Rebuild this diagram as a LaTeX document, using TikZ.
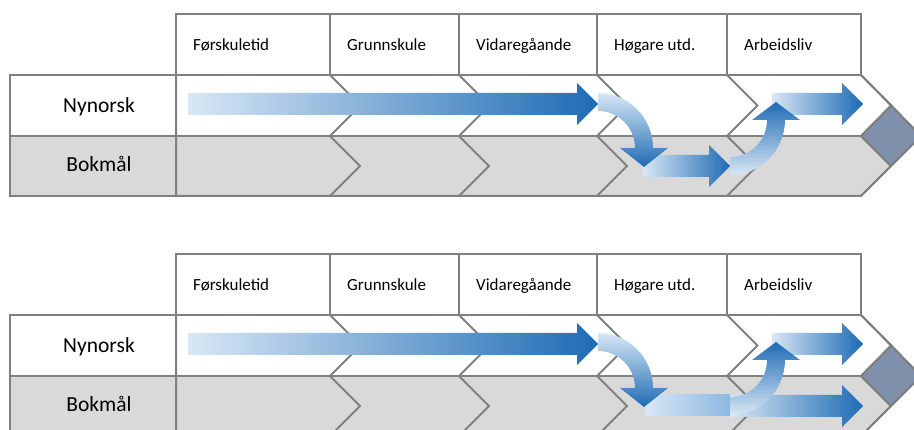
\documentclass[tikz,border=0pt]{standalone}
\usepackage{fontspec}
\setmainfont{Carlito}
\definecolor{bordergrey}{HTML}{808080}
\definecolor{rowgrey}{HTML}{D9D9D9}
\definecolor{diamondfill}{HTML}{7F91AB}
\definecolor{diamondline}{HTML}{6E7E96}
\definecolor{lightblue}{HTML}{D8E7F5}
\definecolor{midblue}{HTML}{8DB8E2}
\definecolor{darkblue}{HTML}{1E6BB4}
\tikzset{
  gridline/.style={draw=bordergrey, line width=2pt, line join=miter},
  hdrtext/.style={anchor=base west, font=\fontsize{17}{19}\selectfont, text=black, inner sep=0pt},
  rowtext/.style={anchor=base, font=\fontsize{21.5}{24}\selectfont, text=black, inner sep=0pt},
  hshade/.style={left color=lightblue, right color=darkblue},
  downshade/.style={top color=lightblue, bottom color=darkblue},
  upshade/.style={top color=darkblue, bottom color=lightblue},
  stubshade/.style={left color=lightblue, right color=midblue},
}
\newcommand\tablepanel[1]{%
  \fill[white] (176,75) -- (861,75) -- (891,105.5) -- (861,136) -- (176,136) -- cycle;
  \fill[rowgrey] (176,136) -- (861,136) -- (891,166) -- (861,196) -- (176,196) -- cycle;
  \draw[gridline, fill=white] (10,75) rectangle (176,136);
  \draw[gridline, fill=rowgrey] (10,136) rectangle (176,196);
  \draw[line width=2pt, draw=diamondline, fill=diamondfill] (861,136) -- (891,105.5) -- (921,136) -- (891,166) -- cycle;
  \draw[gridline] (176,75) -- (861,75) -- (921,136) -- (861,196) -- (176,196) -- cycle;
  \draw[gridline] (176,136) -- (861,136);
  \foreach \x in {330,459,597,727,861} {
    \draw[gridline] (\x,75) -- (\x+30.5,105.5) -- (\x,136) -- (\x+30,166) -- (\x,196);
  }
  \foreach \a/\b/\t/\n in {176/330/Førskuletid/h1, 330/459/Grunnskule/h2, 459/597/Vidaregåande/h3, 597/727/Høgare utd./h4, 727/861/Arbeidsliv/h5} {
    \draw[gridline, fill=white] (\a,14) rectangle (\b,75);
    \node[hdrtext] (#1\n) at (\a+17,51) {\t};
  }
  \node[rowtext] (#1nyn) at (99,112.5) {Nynorsk};
  \node[rowtext] (#1bok) at (99,172) {Bokmål};
}
\newcommand\harrow[4]{%
  \shade[#4] (#1,#3-11) -- (#2-21,#3-11) -- (#2-21,#3-21) -- (#2,#3) -- (#2-21,#3+21) -- (#2-21,#3+11) -- (#1,#3+11) -- cycle;
}
\newcommand\curvedown{%
  \shade[downshade] (598,93) .. controls (628.4,93) and (653,117.6) .. (653,148)
    -- (668,148) -- (644,167) -- (620,148) -- (635,148)
    .. controls (635,127.6) and (618.4,111) .. (598,111) -- cycle;
}
\newcommand\curveup{%
  \shade[upshade] (730,175) .. controls (760.4,175) and (785,150.4) .. (785,120)
    -- (800,120) -- (776,102) -- (752,120) -- (767,120)
    .. controls (767,140.4) and (750.4,157) .. (730,157) -- cycle;
}
\begin{document}
\begin{tikzpicture}[x=1pt,y=-1pt]
  \clip (0,0) rectangle (914,430);
  \fill[white] (0,0) rectangle (914,430);
  % top panel
  \begin{scope}
    \tablepanel{t}
    \harrow{188}{598}{104}{hshade}
    \harrow{643}{730}{166}{hshade}
    \curvedown
    \harrow{772}{863}{104}{hshade}
    \curveup
  \end{scope}
  % bottom panel
  \begin{scope}[shift={(0,240)}]
    \tablepanel{b}
    \harrow{188}{598}{104}{hshade}
    \shade[stubshade] (645,155) rectangle (730,176);
    \harrow{730}{863}{166}{hshade}
    \curvedown
    \harrow{772}{863}{104}{hshade}
    \curveup
  \end{scope}
\end{tikzpicture}
\end{document}
